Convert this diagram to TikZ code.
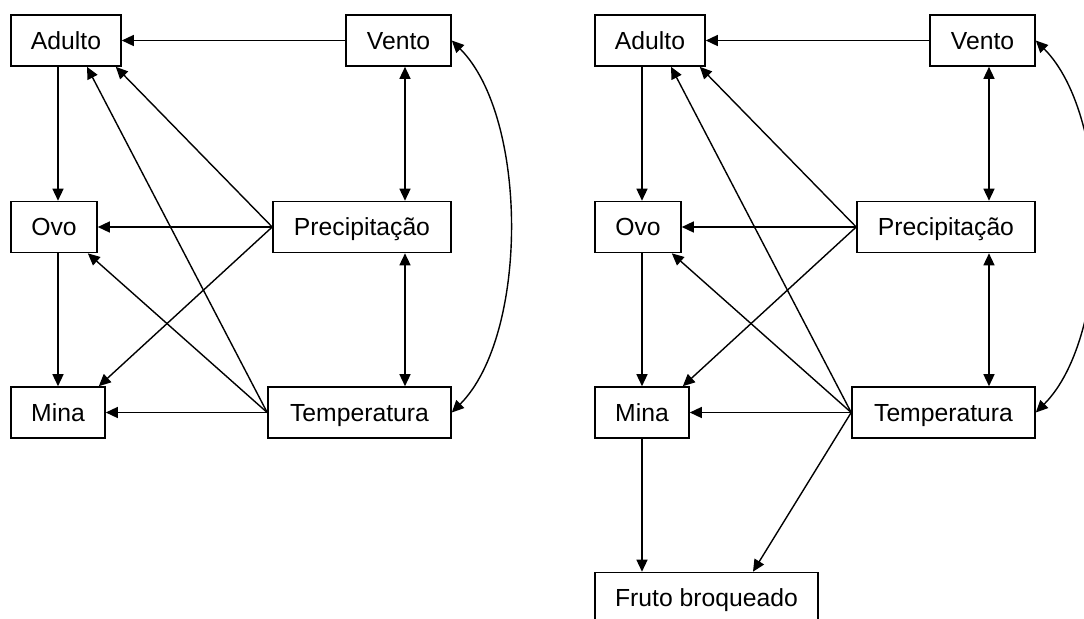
\documentclass[tikz,border=0pt]{standalone}
\usepackage{fontspec}
\setmainfont{Liberation Sans}
\usetikzlibrary{arrows.meta}

\begin{document}
\begin{tikzpicture}[x=0.5pt,y=-0.5pt,
			box/.style={draw,rectangle,line width=0.8pt,inner sep=0pt,minimum height=25.5pt,
				text height=8.8pt,text depth=0pt,align=center,font=\fontsize{12.36}{14}\selectfont},
			link/.style={-{Triangle[length=6pt,width=5.5pt]},line width=0.7pt},
			both/.style={{Triangle[length=6pt,width=5.5pt]}-{Triangle[length=6pt,width=5.5pt]},line width=0.7pt}]
			\useasboundingbox (0,0) rectangle (1084,618);
			% the two panels share the same boxes and arrows
			\foreach \p/\dx in {l/0,r/584} {
				\begin{scope}[shift={(\dx,0)}]
					\node (adulto\p) [box,minimum width=55pt] at (66,40.5) {Adulto};
					\node (vento\p) [box,minimum width=52.5pt] at (398.5,40.5) {Vento};
					\node (ovo\p) [box,minimum width=43pt] at (54,227) {Ovo};
					\node (precip\p) [box,minimum width=89pt] at (362,227) {Precipitação};
					\node (mina\p) [box,minimum width=47pt] at (58,412.5) {Mina};
					\node (temp\p) [box,minimum width=91.5pt] at (359.5,412.5) {Temperatura};
					\draw[link] (vento\p.west) -- (adulto\p.east);
					\draw[link] (adulto\p.south -| mina\p.north) -- (ovo\p.north -| mina\p.north);
					\draw[link] (ovo\p.south -| mina\p.north) -- (mina\p.north);
					\draw[link] (precip\p.west) -- (ovo\p.east);
					\draw[link] (precip\p.west) -- ([xshift=-3pt]adulto\p.south east);
					\draw[link] (precip\p.west) -- ([xshift=-3.5pt]mina\p.north east);
					\draw[link] (temp\p.west) -- ([xshift=10.5pt]adulto\p.south);
					\draw[link] (temp\p.west) -- ([xshift=-5pt]ovo\p.south east);
					\draw[link] (temp\p.west) -- (mina\p.east);
					\draw[both] ([xshift=3.25pt]vento\p.south) -- ([xshift=3.25pt]vento\p.south |- precip\p.north);
					\draw[both] ([xshift=3.25pt]vento\p.south |- precip\p.south) -- ([xshift=3.25pt]vento\p.south |- temp\p.north);
					\draw[both] (vento\p.east) to[bend left=45,looseness=0.75] (temp\p.east);
				\end{scope}
			}
			% only in the right panel
			\node (fruto) [box,minimum width=111.5pt] at (706.5,598) {Fruto broqueado};
			\draw[link] (minar.south) -- (fruto.north -| minar.south);
			\draw[link] (tempr.west) -- ([xshift=23.25pt]fruto.north);
		\end{tikzpicture}
\end{document}
